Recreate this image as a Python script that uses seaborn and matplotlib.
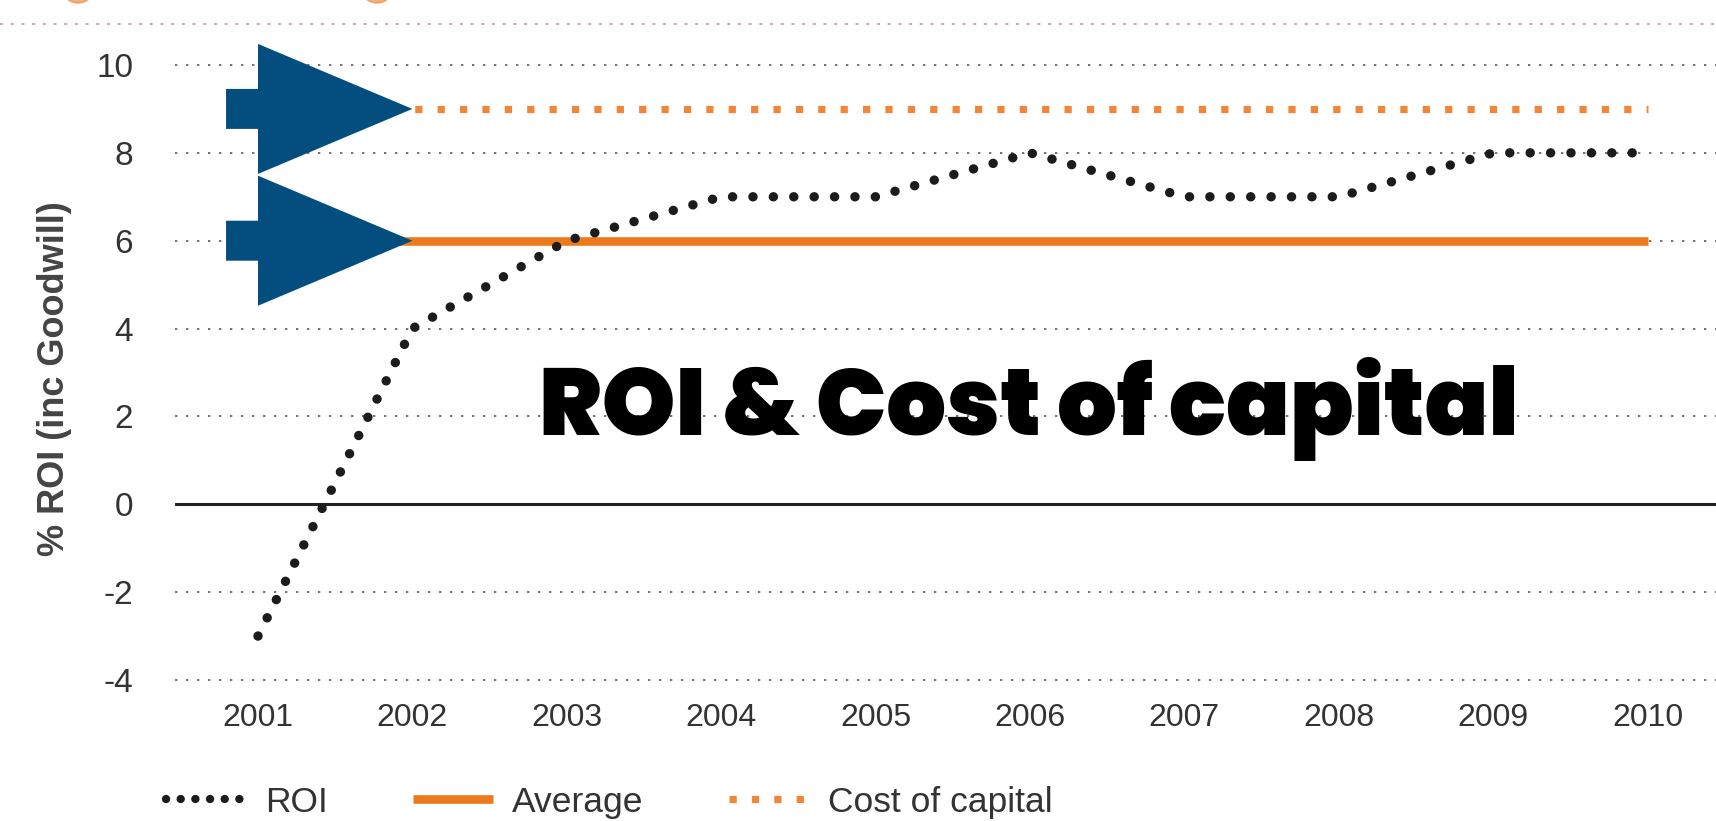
import matplotlib
matplotlib.use("Agg")
import matplotlib.pyplot as plt
from matplotlib import font_manager as fm
from matplotlib.lines import Line2D
from matplotlib.patches import Ellipse
import seaborn as sns

# ---- data -------------------------------------------------------------
years = [2001, 2002, 2003, 2004, 2005, 2006, 2007, 2008, 2009, 2010]
roi = [-3, 4, 6, 7, 7, 8, 7, 7, 8, 8]
average = [6, 6, 6, 6, 6, 6, 6, 6, 6, 6]
cost_of_capital = [9, 9, 9, 9, 9, 9, 9, 9, 9, 9]
y_ticks = [-4, -2, 0, 2, 4, 6, 8, 10]
series_labels = ["ROI", "Average", "Cost of capital"]
y_label = "% ROI (inc Goodwill)"
title_text = "ROI & Cost of capital"

# ---- style ------------------------------------------------------------
sns.set_style("white")
plt.rcParams["font.family"] = ["Liberation Sans", "DejaVu Sans"]

ORANGE = "#EC7A1C"
ORANGE_DOTS = "#EF8639"
NAVY = "#034E7F"
INK = "#1c1c1c"
TEXT = "#333333"


def heavy_font(candidates):
    """Pick the heaviest installed weight among the candidate families."""
    best = None
    for fam in candidates:
        weights = []
        for f in fm.fontManager.ttflist:
            if f.name == fam:
                w = f.weight
                if not isinstance(w, int):
                    w = fm.weight_dict.get(w, 400)
                weights.append(w)
        if weights:
            m = max(weights)
            if m >= 800:
                return fam, m
            if best is None or m > best[1]:
                best = (fam, m)
    return best if best else ("DejaVu Sans", 700)


title_family, title_weight = heavy_font(
    ["Poppins", "Montserrat", "Lato", "Roboto", "Inter", "Open Sans", "Noto Sans", "DejaVu Sans"])

W, H = 1716, 821
fig = plt.figure(figsize=(W / 100, H / 100), dpi=100)
fig.patch.set_facecolor("white")

# axes box in pixels: left 175, top 56, bottom 689, reaching the right edge
ax = fig.add_axes([175 / W, (H - 688.8) / H, 1 - 175 / W, (688.8 - 56.2) / H])
ax.set_facecolor("none")

roi_style = dict(color=INK, linewidth=6.8, linestyle=(0, (0.01, 2.15)),
                 dash_capstyle="round")
avg_style = dict(color=ORANGE, linewidth=6.2, solid_capstyle="butt")
coc_style = dict(color=ORANGE_DOTS, linewidth=5.2, linestyle=(0, (1.0, 2.1)),
                 dash_capstyle="butt")

sns.lineplot(x=years, y=cost_of_capital, ax=ax, zorder=3, **coc_style)
sns.lineplot(x=years, y=average, ax=ax, zorder=3, **avg_style)
sns.lineplot(x=years, y=roi, ax=ax, zorder=4, **roi_style)

# zero baseline
ax.axhline(0, color="#222222", linewidth=2.2, zorder=2)

# axes, grid and ticks
ax.set_xlim(2000.4624, 2010.443)
ax.set_ylim(-4.2, 10.2)
ax.set_xticks(years)
ax.set_xticklabels([str(y) for y in years])
ax.set_yticks(y_ticks)
ax.set_yticklabels([str(t) for t in y_ticks])
ax.yaxis.grid(True, color="#5a5a5a", linewidth=1.2, linestyle=(0, (1.4, 5.2)), zorder=1)
ax.xaxis.grid(False)
for s in ax.spines.values():
    s.set_visible(False)
ax.tick_params(axis="y", length=0, pad=30, labelsize=24, labelcolor=TEXT)
ax.tick_params(axis="x", length=0, pad=10, labelsize=23, labelcolor=TEXT)
ax.set_xlabel("")
ax.set_ylabel(y_label, fontsize=26, fontweight="bold", color="#444444")
ax.yaxis.set_label_coords(-0.067, 0.491)


# block arrows pointing at the start of the average and cost-of-capital lines
def block_arrow(tip_x, tip_y):
    base_x = tip_x - 1.0
    tail_x = base_x - 0.207
    shaft, head = 0.455, 1.48
    xs = [tail_x, base_x, base_x, tip_x, base_x, base_x, tail_x]
    ys = [tip_y - shaft, tip_y - shaft, tip_y - head, tip_y,
          tip_y + head, tip_y + shaft, tip_y + shaft]
    ax.fill(xs, ys, color=NAVY, zorder=6, clip_on=False, linewidth=0)


block_arrow(years[1], cost_of_capital[1])
block_arrow(years[1], average[1])

# headline across the plot
fig.text(1029 / W, 1 - 435 / H, title_text, fontsize=67.5, fontweight=title_weight,
         family=[title_family, "DejaVu Sans"], color="black",
         ha="center", va="baseline", zorder=10)

# legend under the axis labels
roi_handle = dict(roi_style, linewidth=6.0, linestyle=(0, (0.01, 1.75)))
handles = [Line2D([], [], **roi_handle),
           Line2D([], [], **avg_style),
           Line2D([], [], **coc_style)]
leg = fig.legend(handles, series_labels, loc="center left",
                 bbox_to_anchor=(166 / W, 1 - 802 / H), ncol=3, frameon=False,
                 fontsize=25.5, handlelength=2.25, handletextpad=0.55,
                 columnspacing=2.4, borderpad=0, borderaxespad=0)
for t in leg.get_texts():
    t.set_color(TEXT)

# header rule at the top edge with the bottoms of two orange badges
fig.add_artist(Line2D([0, 1], [1 - 24 / H, 1 - 24 / H], transform=fig.transFigure,
                      color="#c4928a", linewidth=1.1, linestyle=(0, (2, 5))))
for cx in (78, 377):
    fig.add_artist(Ellipse((cx / W, 1 + 14 / H), 34 / W, 34 / H,
                           transform=fig.transFigure, color="#F08A45", alpha=0.7))

fig.savefig("out.png", dpi=100, facecolor="white")
